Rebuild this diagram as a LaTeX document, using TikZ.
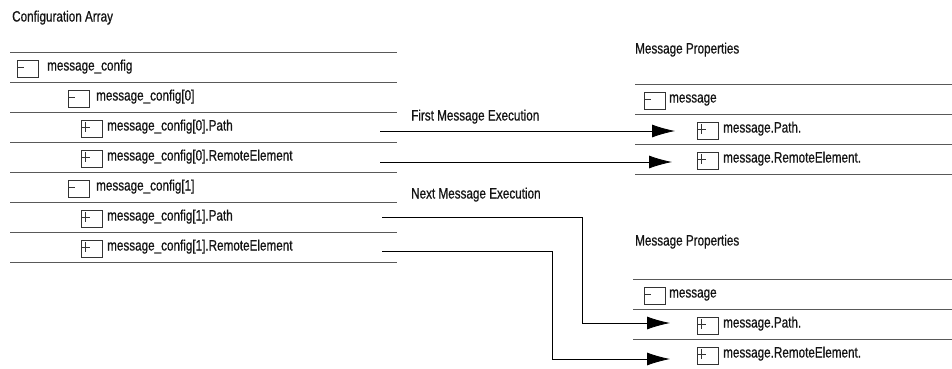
\documentclass[tikz,border=0pt]{standalone}
\usepackage{fontspec}
\setmainfont{Liberation Sans}[FakeStretch=0.78,FakeBold=0.7]
\usetikzlibrary{arrows.meta}

\tikzset{
  txt/.style={anchor=west, inner sep=0pt, text height=10.5pt, text depth=3.5pt,
              font=\fontsize{15}{17}\selectfont, text=black!92},
  rowline/.style={draw=black!65, line width=0.8pt},
  ico/.style={draw=black!80, line width=0.6pt, anchor=west, inner sep=0pt,
              minimum width=21pt, minimum height=17pt},
  icominus/.style={ico, path picture={
      \draw[line width=0.6pt] ([yshift=-7pt]path picture bounding box.north west) -- ++(7pt,0pt);}},
  icoplus/.style={ico, path picture={
      \draw[line width=1.1pt] ([yshift=-7pt]path picture bounding box.north west) -- ++(9pt,0pt);
      \draw[line width=1.1pt] ([xshift=4.5pt,yshift=-1.5pt]path picture bounding box.north west) -- ++(0pt,-10pt);}},
  conn/.style={draw=black, line width=0.8pt, -{Latex[length=23pt,width=13pt]}}
}

\begin{document}
\begin{tikzpicture}[x=1pt, y=-1pt]
\useasboundingbox (0,0) rectangle (952,368);

% ---------- configuration array ----------
\node[txt] (cfgtitle) at (12,18) {Configuration Array};
\foreach \yy in {52,82,112,142,172,202,232,262}
  \draw[rowline] (10,\yy) -- (397,\yy);

\node[icominus] (i0) at (17,69)  {};
\node[txt]      (r0) at (47,67)  {message\_config};
\node[icominus] (i1) at (68,99)  {};
\node[txt]      (r1) at (96,97)  {message\_config[0]};
\node[icoplus]  (i2) at (81,129) {};
\node[txt]      (r2) at (107,127) {message\_config[0].Path};
\node[icoplus]  (i3) at (81,159) {};
\node[txt]      (r3) at (107,157) {message\_config[0].RemoteElement};
\node[icominus] (i4) at (68,189) {};
\node[txt]      (r4) at (96,187) {message\_config[1]};
\node[icoplus]  (i5) at (81,219) {};
\node[txt]      (r5) at (107,217) {message\_config[1].Path};
\node[icoplus]  (i6) at (81,249) {};
\node[txt]      (r6) at (107,247) {message\_config[1].RemoteElement};

% ---------- message properties (first execution) ----------
\node[txt] (mptitleA) at (635,50) {Message Properties};
\foreach \yy in {84,114,144,174}
  \draw[rowline] (635,\yy) -- (952,\yy);
\node[icominus] (ai0) at (644,101) {};
\node[txt]      (am0) at (669,99)  {message};
\node[icoplus]  (ai1) at (697,131) {};
\node[txt]      (am1) at (723,129) {message.Path.};
\node[icoplus]  (ai2) at (697,161) {};
\node[txt]      (am2) at (723,159) {message.RemoteElement.};

% ---------- message properties (next execution) ----------
\node[txt] (mptitleB) at (635,242) {Message Properties};
\foreach \yy in {279,309,339}
  \draw[rowline] (633,\yy) -- (952,\yy);
\node[icominus] (bi0) at (644,296) {};
\node[txt]      (bm0) at (669,294) {message};
\node[icoplus]  (bi1) at (697,326) {};
\node[txt]      (bm1) at (723,324) {message.Path.};
\node[icoplus]  (bi2) at (697,356) {};
\node[txt]      (bm2) at (723,354) {message.RemoteElement.};

% ---------- execution labels ----------
\node[txt] (firstlbl) at (411,117) {First Message Execution};
\node[txt] (nextlbl)  at (411,195) {Next Message Execution};

% ---------- connector end points ----------
\coordinate (s2) at (380,131);
\coordinate (t2) at (675,131);
\coordinate (s3) at (380,162);
\coordinate (t3) at (672,162);
\coordinate (s5) at (382,217);
\coordinate (k5) at (582,323);
\coordinate (t5) at (670,323);
\coordinate (s6) at (382,251);
\coordinate (k6) at (552,359);
\coordinate (t6) at (670,359);

\draw[conn] (s2) -- (t2);
\draw[conn] (s3) -- (t3);
\draw[conn] (s5) -| (k5) -- (t5);
\draw[conn] (s6) -| (k6) -- (t6);
\end{tikzpicture}
\end{document}
